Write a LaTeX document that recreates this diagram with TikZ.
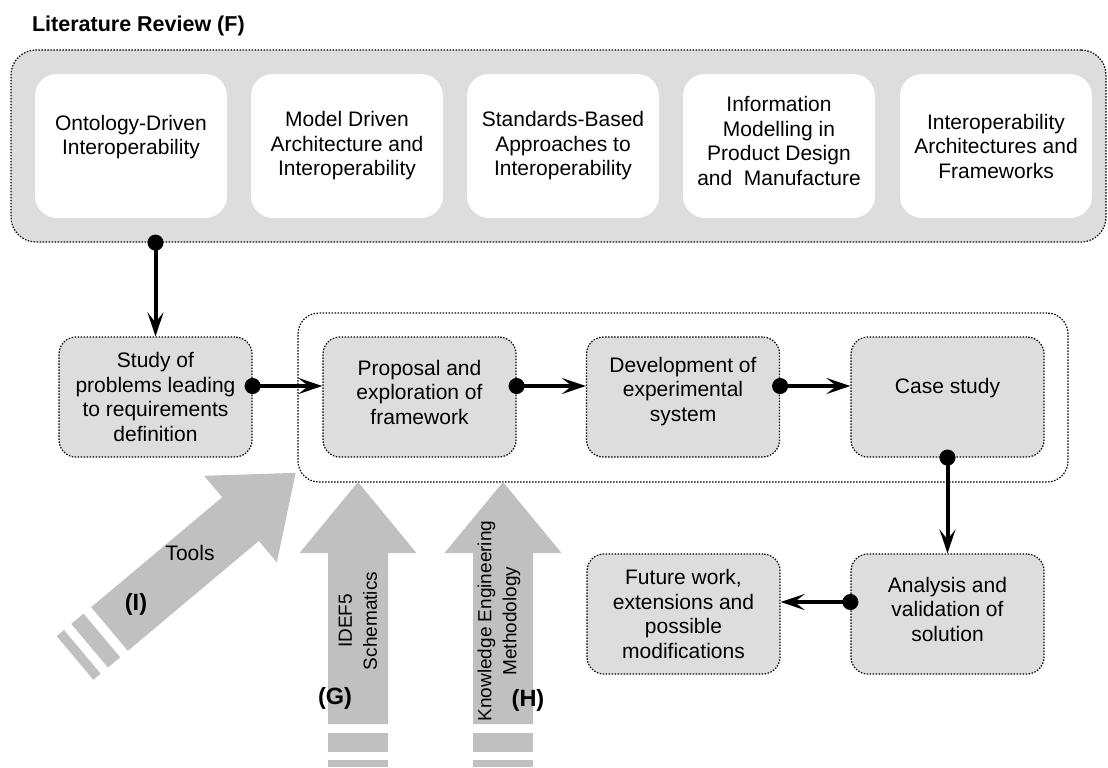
\documentclass[tikz,border=0pt]{standalone}
\usepackage{fontspec}
\setmainfont{Liberation Sans}
\usepackage{xcolor}
\usepackage{tikz}
\usetikzlibrary{arrows.meta,positioning}
\definecolor{boxgray}{HTML}{DDDDDD}
\definecolor{arrowgray}{HTML}{C0C0C0}

\begin{document}
\begin{tikzpicture}[x=0.5pt,y=-0.5pt,
    every node/.style={font=\fontsize{10.5}{12.25}\selectfont},
    dotline/.style={line width=0.6pt, dash pattern=on 0.75pt off 0.75pt},
    topic/.style={fill=white, rounded corners=11pt, minimum width=96pt, minimum height=72pt, align=center, inner sep=0pt},
    stage/.style={dotline, draw, fill=boxgray, rounded corners=8.5pt, minimum width=96.5pt, minimum height=60pt, align=center, inner sep=0pt},
    link/.style={line width=2pt, shorten <=-4pt, {Circle[length=8pt]}-{Stealth[length=12pt,width=8pt,inset=5pt]}},
    tag/.style={font=\fontsize{11.75}{13.5}\selectfont\bfseries},
    side/.style={font=\fontsize{9.5}{12.5}\selectfont, rotate=90, align=center}]

    \path[use as bounding box] (0,0) rectangle (1108,767);

    % literature review (F)
    \node[anchor=base west, tag, font=\fontsize{10.75}{13}\selectfont\bfseries] (title) at (25,31.7) {Literature Review (F)};
    \node[dotline, draw, fill=boxgray, rounded corners=12.5pt, minimum width=547.5pt, minimum height=96pt] (review) at (558.5,146) {};
    \node[topic] (onto) at (131,146) {Ontology-Driven\\Interoperability\\[-1.25pt]};
    \node[topic] (mda) at (347,146) {Model Driven\\Architecture and\\Interoperability};
    \node[topic] (std) at (563,146) {Standards-Based\\Approaches to\\Interoperability};
    \node[topic] (info) at (779,146) {Information\\Modelling in\\Product Design\\and\ \ Manufacture\\[-7.25pt]};
    \node[topic] (arch) at (996,146) {Interoperability\\Architectures and\\Frameworks};

    % research stages
    \node[dotline, draw, rounded corners=10.5pt, minimum width=385pt, minimum height=84.5pt] (stages) at (683,397.5) {};
    \node[stage] (study) at (155.5,397) {Study of\\problems leading\\to requirements\\definition};
    \node[stage] (proposal) at (419.5,397) {Proposal and\\exploration of\\framework\\[-7.25pt]};
    \node[stage] (devel) at (683,397) {Development of\\experimental\\system\\[-4.25pt]};
    \node[stage] (case) at (947.5,397) {Case study\\[-1.25pt]};
    \node[stage] (analysis) at (947.5,614) {Analysis and\\validation of\\solution\\[-7.25pt]};
    \node[stage] (future) at (683.5,614) {Future work,\\extensions and\\possible\\modifications};

    % links
    \draw[link] (study.north |- review.south) -- (study.north);
    \draw[link] ([yshift=5.5pt]study.east) -- ([yshift=5.5pt]proposal.west);
    \draw[link] ([yshift=5.5pt]proposal.east) -- ([yshift=5.5pt]devel.west);
    \draw[link] ([yshift=5.5pt]devel.east) -- ([yshift=5.5pt]case.west);
    \draw[link] (case.south) -- (analysis.north);
    \draw[link] ([yshift=6pt]analysis.west) -- ([yshift=6pt]future.east);

    % tools (I)
    \begin{scope}[shift={(109.5,629)}, rotate=40]
        \fill[arrowgray] (0,-28.5) -- (171,-28.5) -- (171,-56.5) -- (243,0) -- (171,56.5) -- (171,28.5) -- (0,28.5) -- cycle;
        \fill[arrowgray] (-26,-28.5) rectangle (-10,28.5);
        \fill[arrowgray] (-45,-28.5) rectangle (-35.5,28.5);
    \end{scope}
    \node (tools) at (190,553) {Tools};
    \node[tag] (toolstag) at (136,604) {(I)};

    % IDEF5 schematics (G)
    \fill[arrowgray] (328,724) -- (328,553) -- (299.5,553) -- (358,482) -- (416.5,553) -- (388,553) -- (388,724) -- cycle;
    \fill[arrowgray] (328,733) rectangle (388,752);
    \fill[arrowgray] (328,760) rectangle (388,767);
    \node[side] (idef) at (358,621) {IDEF5\\Schematics};
    \node[tag] (idefftag) at (335,698) {(G)};

    % knowledge engineering methodology (H)
    \fill[arrowgray] (473,724) -- (473,553) -- (444.5,553) -- (503,482) -- (561.5,553) -- (533,553) -- (533,724) -- cycle;
    \fill[arrowgray] (473,733) rectangle (533,752);
    \fill[arrowgray] (473,760) rectangle (533,767);
    \node[side] (kem) at (499,621) {Knowledge Engineering\\Methodology};
    \node[tag] (kemtag) at (528,700) {(H)};
\end{tikzpicture}
\end{document}
